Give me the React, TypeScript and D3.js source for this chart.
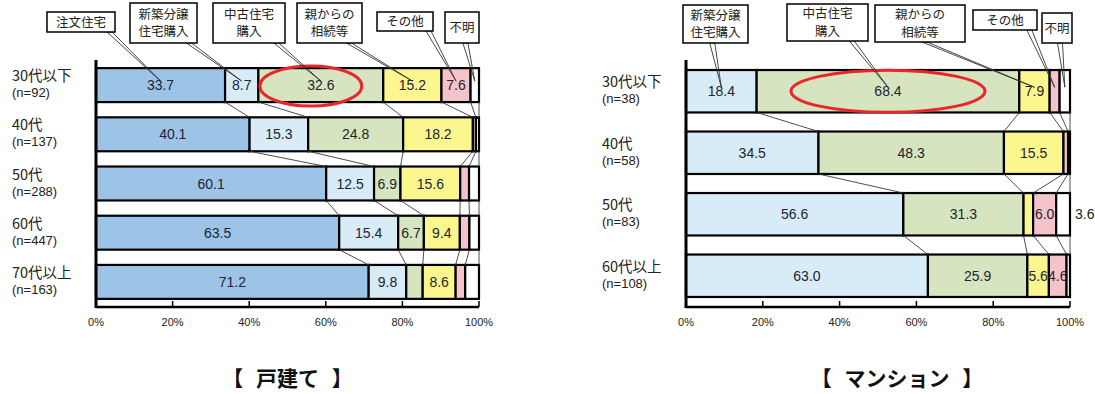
import React from "react";
import * as d3 from "d3";

// ---------- Data: 戸建て ----------
const kodateCategories = ["30代以下", "40代", "50代", "60代", "70代以上"];
const kodateN = ["(n=92)", "(n=137)", "(n=288)", "(n=447)", "(n=163)"];
const kodateSeries = ["注文住宅", "新築分譲住宅購入", "中古住宅購入", "親からの相続等", "その他", "不明"];
const kodateChumon = [33.7, 40.1, 60.1, 63.5, 71.2];
const kodateShinchiku = [8.7, 15.3, 12.5, 15.4, 9.8];
const kodateChuko = [32.6, 24.8, 6.9, 6.7, 4.3];
const kodateSozoku = [15.2, 18.2, 15.6, 9.4, 8.6];
const kodateSonota = [7.6, 0.8, 2.3, 2.5, 2.5];
const kodateFumei = [2.2, 0.8, 2.6, 2.5, 3.6];

// ---------- Data: マンション ----------
const mansionCategories = ["30代以下", "40代", "50代", "60代以上"];
const mansionN = ["(n=38)", "(n=58)", "(n=83)", "(n=108)"];
const mansionSeries = ["新築分譲住宅購入", "中古住宅購入", "親からの相続等", "その他", "不明"];
const mansionShinchiku = [18.4, 34.5, 56.6, 63.0];
const mansionChuko = [68.4, 48.3, 31.3, 25.9];
const mansionSozoku = [7.9, 15.5, 2.5, 5.6];
const mansionSonota = [2.6, 1.2, 6.0, 4.6];
const mansionFumei = [2.7, 0.5, 3.6, 0.9];

const tickValues = [0, 20, 40, 60, 80, 100];

const seriesColors: Record<string, string> = {
  注文住宅: "#9dc3e6",
  新築分譲住宅購入: "#d7ecf6",
  中古住宅購入: "#d6e5bf",
  親からの相続等: "#fbf78e",
  その他: "#f5c3ca",
  不明: "#ffffff",
};

const CJK = "'Noto Sans CJK JP', 'Noto Sans', sans-serif";
const NUM = "'Liberation Sans', Arial, sans-serif";

type Box = { lines: string[]; x: number; y: number; w: number; h: number; base: number };

type ChartProps = {
  x0: number;
  x1: number;
  categories: string[];
  ns: string[];
  series: string[];
  columns: number[][];
  labelMin: number;
  outside: [number, number][];
  boxes: Box[];
  ellipse: { series: number; dx: number; dy: number; rx: number; ry: number };
  title: string;
  titleDx: number;
  labelX: number;
  labelSize: number;
};

const BOX_LINE = 17.5;

function StackedChart(p: ChartProps) {
  const x = d3.scaleLinear().domain([0, 100]).range([p.x0, p.x1]);
  const y = d3
    .scaleBand<string>()
    .domain(p.categories)
    .range([60.5, 306.5])
    .paddingInner(0.31)
    .paddingOuter(0.155);
  const bw = y.bandwidth();

  const rows = p.categories.map((c, i) => {
    const vals = p.columns.map((col) => col[i]);
    const cum = d3.cumsum(vals);
    return { c, i, vals, starts: vals.map((v, k) => cum[k] - v), cum };
  });

  const connectors: JSX.Element[] = [];
  for (let r = 0; r < rows.length - 1; r++) {
    const a = rows[r];
    const b = rows[r + 1];
    a.cum.forEach((v, k) => {
      connectors.push(
        <line
          key={`c${r}-${k}`}
          x1={x(v)}
          y1={(y(a.c) as number) + bw}
          x2={x(b.cum[k])}
          y2={y(b.c) as number}
          stroke="#3a3a3a"
          strokeWidth={0.9}
        />
      );
    });
  }

  const first = rows[0];
  const cy0 = (y(first.c) as number) + bw / 2;
  const el = p.ellipse;
  const ecx = x(first.starts[el.series] + first.vals[el.series] / 2) + el.dx;

  const isOutside = (r: number, k: number) => p.outside.some(([a, b]) => a === r && b === k);

  return (
    <g>
      {/* bars */}
      {rows.map((row) =>
        row.vals.map((v, k) => (
          <rect
            key={`b${row.i}-${k}`}
            x={x(row.starts[k])}
            y={y(row.c)}
            width={x(row.starts[k] + v) - x(row.starts[k])}
            height={bw}
            fill={seriesColors[p.series[k]]}
            stroke="#000"
            strokeWidth={2.2}
          />
        ))
      )}
      {connectors}
      {/* value labels */}
      {rows.map((row) =>
        row.vals.map((v, k) => {
          const cy = (y(row.c) as number) + bw / 2 + 5;
          if (isOutside(row.i, k)) {
            return (
              <text key={`o${row.i}-${k}`} x={x(100) + 5} y={cy} fontFamily={NUM} fontSize={14} fill="#222">
                {d3.format(".1f")(v)}
              </text>
            );
          }
          if (v < p.labelMin) return null;
          return (
            <text
              key={`t${row.i}-${k}`}
              x={x(row.starts[k] + v / 2)}
              y={cy}
              textAnchor="middle"
              fontFamily={NUM}
              fontSize={14}
              fill="#1e2433"
            >
              {d3.format(".1f")(v)}
            </text>
          );
        })
      )}
      {/* row labels */}
      {rows.map((row) => {
        const c = (y(row.c) as number) + bw / 2;
        return (
          <g key={`l${row.i}`} fill="#222">
            <text x={p.labelX} y={c - 4} fontSize={p.labelSize} fontFamily={CJK}>
              {row.c}
            </text>
            <text x={p.labelX} y={c + 12} fontSize={p.labelSize - 1.5} fontFamily={NUM}>
              {p.ns[row.i]}
            </text>
          </g>
        );
      })}
      {/* axes */}
      <line x1={p.x0} y1={60} x2={p.x0} y2={308} stroke="#000" strokeWidth={3} />
      <line x1={p.x0} y1={307} x2={p.x1} y2={307} stroke="#000" strokeWidth={2.5} />
      {tickValues.map((t) => (
        <g key={`tk${t}`}>
          <line x1={x(t)} y1={301} x2={x(t)} y2={307} stroke="#000" strokeWidth={1.5} />
          <text x={x(t)} y={326} textAnchor="middle" fontFamily={NUM} fontSize={11} fill="#222">
            {`${t}%`}
          </text>
        </g>
      ))}
      {/* red ellipse */}
      <ellipse cx={ecx} cy={cy0 + el.dy} rx={el.rx} ry={el.ry} fill="none" stroke="#e8262b" strokeWidth={3} />
      {/* callouts */}
      {p.boxes.map((b, k) => {
        const ax = x(first.starts[k] + first.vals[k] / 2);
        const ay = cy0 - 4;
        const bx = b.x + b.w * b.base;
        const by = b.y + b.h;
        const n = b.lines.length;
        return (
          <g key={`bx${k}`}>
            <polygon
              points={`${bx - 2.5},${by} ${bx + 2.5},${by} ${ax},${ay}`}
              fill="none"
              stroke="#333"
              strokeWidth={0.9}
            />
            <rect x={b.x} y={b.y} width={b.w} height={b.h} fill="#fff" stroke="#000" strokeWidth={1.5} />
            <text
              x={b.x + b.w / 2}
              y={b.y + b.h / 2 + 4.5 - ((n - 1) / 2) * BOX_LINE}
              textAnchor="middle"
              fontFamily={CJK}
              fontSize={12.5}
              fill="#222"
            >
              {b.lines.map((ln, j) => (
                <tspan key={j} x={b.x + b.w / 2} dy={j === 0 ? 0 : BOX_LINE}>
                  {ln}
                </tspan>
              ))}
            </text>
          </g>
        );
      })}
      {/* title */}
      <text
        x={(p.x0 + p.x1) / 2 + p.titleDx}
        y={386}
        textAnchor="middle"
        fontFamily={CJK}
        fontSize={21}
        fontWeight={700}
        wordSpacing={8}
        fill="#111"
        style={{ whiteSpace: "pre" }}
      >
        {p.title}
      </text>
    </g>
  );
}

export default function App() {
  const kodateBoxes: Box[] = [
    { lines: ["注文住宅"], x: 47, y: 12, w: 68, h: 20, base: 0.92 },
    { lines: ["新築分譲", "住宅購入"], x: 130, y: 3, w: 67, h: 40, base: 0.88 },
    { lines: ["中古住宅", "購入"], x: 213, y: 3, w: 72, h: 40, base: 0.88 },
    { lines: ["親からの", "相続等"], x: 297, y: 3, w: 65, h: 40, base: 0.8 },
    { lines: ["その他"], x: 377, y: 12, w: 56, h: 19, base: 0.92 },
    { lines: ["不明"], x: 445, y: 12, w: 34, h: 31, base: 0.6 },
  ];
  const mansionBoxes: Box[] = [
    { lines: ["新築分譲", "住宅購入"], x: 683, y: 5, w: 65, h: 38, base: 0.45 },
    { lines: ["中古住宅", "購入"], x: 787, y: 4, w: 81, h: 37, base: 0.8 },
    { lines: ["親からの", "相続等"], x: 875, y: 5, w: 90, h: 37, base: 0.55 },
    { lines: ["その他"], x: 973, y: 10, w: 64, h: 20, base: 0.88 },
    { lines: ["不明"], x: 1042, y: 13, w: 30, h: 30, base: 0.6 },
  ];

  return (
    <svg
      width={1095}
      height={394}
      viewBox="0 0 1095 394"
      style={{ position: "absolute", left: 0, top: 0, background: "#fff" }}
    >
      <rect width={1095} height={394} fill="#fff" />
      <StackedChart
        x0={96}
        x1={479}
        categories={kodateCategories}
        ns={kodateN}
        series={kodateSeries}
        columns={[kodateChumon, kodateShinchiku, kodateChuko, kodateSozoku, kodateSonota, kodateFumei]}
        labelMin={5}
        outside={[]}
        boxes={kodateBoxes}
        ellipse={{ series: 2, dx: -10, dy: 1, rx: 51, ry: 20 }}
        title="【 戸建て 】"
        titleDx={0}
        labelX={12}
        labelSize={14.5}
      />
      <StackedChart
        x0={686}
        x1={1070}
        categories={mansionCategories}
        ns={mansionN}
        series={mansionSeries}
        columns={[mansionShinchiku, mansionChuko, mansionSozoku, mansionSonota, mansionFumei]}
        labelMin={4.5}
        outside={[[2, 4]]}
        boxes={mansionBoxes}
        ellipse={{ series: 1, dx: 0, dy: 0, rx: 97, ry: 21 }}
        title="【 マンション 】"
        titleDx={19}
        labelX={602}
        labelSize={14.5}
      />
    </svg>
  );
}
